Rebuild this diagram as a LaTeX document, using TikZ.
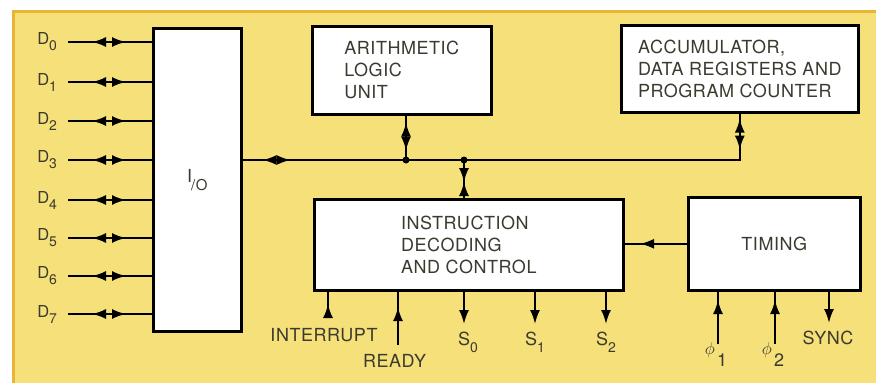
\documentclass[tikz,border=0pt]{standalone}
\usepackage{fontspec}
\setmainfont{TeX Gyre Heros}[LetterSpace=3]
\usepackage{xcolor}
\usetikzlibrary{arrows.meta,positioning,calc}
\definecolor{paper}{HTML}{F6E07A}
\definecolor{edgeor}{HTML}{E8B535}
\definecolor{ink}{HTML}{3A3A2E}
\newcommand{\sbs}[2][6pt]{\lower#1\hbox{\fontsize{14}{14}\selectfont#2}}

\begin{document}
\begin{tikzpicture}[x=1pt, y=-1pt, >={Latex[length=14pt,width=10pt]}, line width=2pt,
 blk/.style={draw, line width=2.6pt, fill=white, anchor=north west, align=left, text=ink,
  inner sep=0pt, font=\fontsize{18}{22}\selectfont},
 dlab/.style={anchor=east, inner sep=0pt, inner xsep=10pt, text=ink, font=\fontsize{16.5}{18}\selectfont},
 lab/.style={inner sep=0pt, text=ink, font=\fontsize{18}{20}\selectfont}]
\useasboundingbox (0,0) rectangle (876,383);
\fill[paper] (12,10) rectangle (876,383);
\draw[edgeor, line width=3pt] (13,383) -- (13,11) -- (876,11);

\node[blk, minimum width=88pt, minimum height=303pt] (io) at (152,27)
 {I\kern-1pt\lower8pt\hbox{\fontsize{15}{15}\selectfont/O}};
\node[blk, minimum width=179pt, minimum height=88pt] (alu) at (311,25)
 {ARITHMETIC\\LOGIC\\UNIT};
\node[blk, minimum width=237pt, minimum height=87pt] (acc) at (620,24)
 {ACCUMULATOR,\\DATA REGISTERS AND\\PROGRAM COUNTER};
\node[blk, minimum width=309pt, minimum height=91pt] (idc) at (313,198)
 {INSTRUCTION\\DECODING\\AND CONTROL};
\node[blk, minimum width=172pt, minimum height=93pt] (tim) at (687,196) {TIMING};

\foreach \i/\y in {0/42,1/82,2/121,3/160,4/200,5/238,6/276,7/314}{
  \node[dlab] (d\i) at (68,\y) {D\sbs{\i}};
  \draw (d\i.east) -- (d\i.east -| io.west);
  \draw[<->] ($(d\i.east)+(24,0)$) -- ++(34,0);
}

\coordinate (ja) at (406,160);
\coordinate (jb) at (464,160);
\draw (io.east |- d3) -- (acc.south |- d3) -- (acc.south);
\draw[<->] ($(io.east |- d3)+(20,0)$) -- ++(28,0);
\draw[<->] ($(acc.south)+(0,5)$) -- ++(0,31);
\draw (ja |- alu.south) -- (ja);
\draw[<->] ($(ja |- alu.south)+(0,7)$) -- ++(0,28);
\draw (jb) -- (jb |- idc.north);
\draw[->] ($(jb)+(0,6)$) -- ++(0,16);
\draw[->] (jb |- idc.north) -- ++(0,-16);
\fill (ja) circle (3.5pt);
\fill (jb) circle (3.5pt);
\draw (tim.west) -- (tim.west -| idc.east);
\draw[->] ($(tim.west)+(-32,0)$) -- ++(-15,0);

\coordinate (intr) at (328,318);
\coordinate (rdy) at (398,345);
\coordinate (s0) at (464,324);
\coordinate (s1) at (535,324);
\coordinate (s2) at (606,324);
\coordinate (p1) at (718,344);
\coordinate (p2) at (775,344);
\coordinate (snc) at (829,323);
\draw (intr) -- (intr |- idc.south);
\draw[->] (intr) -- ++(0,-14);
\draw (rdy) -- (rdy |- idc.south);
\draw[->] ($(rdy)+(0,-24)$) -- ++(0,-14);
\foreach \c in {s0,s1,s2}{
  \draw[->] (\c |- idc.south) -- (\c);
}
\foreach \c in {p1,p2}{
  \draw (\c) -- (\c |- tim.south);
  \draw[->] ($(\c)+(0,-30)$) -- ++(0,-14);
}
\draw[->] (snc |- tim.south) -- (snc);

\node[lab] (lintr) at (324,335.5) {INTERRUPT};
\node[lab] (lrdy) at (394.5,361) {READY};
\node[lab] (ls0) at (468,342.5) {S\sbs[7pt]{0}};
\node[lab] (ls1) at (535,342.5) {S\sbs[7pt]{1}};
\node[lab] (ls2) at (606,342.5) {S\sbs[7pt]{2}};
\node[lab] (lp1) at (716,354) {{\fontsize{16}{16}\selectfont$\phi$}\kern2pt\lower12pt\hbox{1}};
\node[lab] (lp2) at (773,354) {{\fontsize{16}{16}\selectfont$\phi$}\kern2pt\lower12pt\hbox{2}};
\node[lab] (lsnc) at (828,337.5) {SYNC};
\end{tikzpicture}
\end{document}
